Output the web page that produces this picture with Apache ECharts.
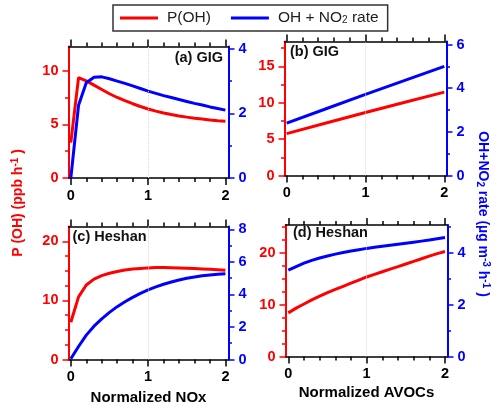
<!DOCTYPE html>
<html><head><meta charset="utf-8">
<script src="https://cdn.jsdelivr.net/npm/echarts@6/dist/echarts.min.js"></script>
<style>html,body{margin:0;padding:0;background:#fff}#c{width:500px;height:409px}</style>
</head><body><div id="c"></div>
<script>
// ---- data ----
const xNOx = [0,0.1,0.2,0.3,0.4,0.5,0.6,0.7,0.8,0.9,1.0,1.1,1.2,1.3,1.4,1.5,1.6,1.7,1.8,1.9,2.0];
const aPOH  = [3.3,9.35,9.05,8.65,8.25,7.85,7.5,7.2,6.92,6.66,6.43,6.23,6.06,5.91,5.78,5.67,5.57,5.49,5.41,5.34,5.28];
const aRate = [0,2.25,2.95,3.12,3.13,3.07,3.0,2.93,2.85,2.77,2.69,2.62,2.55,2.49,2.43,2.37,2.31,2.26,2.2,2.15,2.1];
const xAVOCb = [0,0.5,1.0,1.5,2.0];
const bPOH  = [5.75,7.2,8.65,10.05,11.45];
const bRate = [2.4,3.06,3.72,4.36,5.0];
const cPOH  = [6.3,10.6,12.6,13.6,14.2,14.6,14.9,15.15,15.3,15.4,15.5,15.55,15.55,15.53,15.5,15.45,15.4,15.33,15.26,15.18,15.1];
const cRate = [0.05,0.8,1.5,2.05,2.5,2.9,3.25,3.55,3.82,4.07,4.28,4.47,4.63,4.77,4.89,5.0,5.08,5.15,5.2,5.25,5.28];
const xAVOC = [0,0.1,0.2,0.3,0.4,0.5,0.6,0.7,0.8,0.9,1.0,1.1,1.2,1.3,1.4,1.5,1.6,1.7,1.8,1.9,2.0];
const dPOH  = [8.4,9.3,10.1,10.9,11.6,12.3,12.9,13.5,14.1,14.7,15.3,15.8,16.3,16.8,17.3,17.8,18.3,18.8,19.3,19.8,20.2];
const dRate = [3.32,3.46,3.59,3.70,3.79,3.87,3.94,4.00,4.06,4.11,4.16,4.20,4.24,4.28,4.32,4.36,4.40,4.44,4.48,4.53,4.58];
const xTicks = [0,1,2];
const gridLineX = [1];
const yTicksA = [0,5,10],  rTicksA = [0,2,4];
const yTicksB = [0,5,10,15], rTicksB = [0,2,4,6];
const yTicksC = [0,10,20], rTicksC = [0,2,4,6,8];
const yTicksD = [0,10,20], rTicksD = [0,2,4];
const panelTitles = ['(a) GIG','(b) GIG','(c) Heshan','(d) Heshan'];
const xNames = ['Normalized NOx','Normalized AVOCs'];
const seriesNames = ['P(OH)','OH + NO2 rate'];

const FONT = "'Liberation Sans', Arial, sans-serif";
const RED = '#ff0000', BLUE = '#0000ff';

function xAxesFor(gi, min, max, name, nameGap) {
  const base = {
    type:'value', gridIndex:gi, min:min, max:max, splitNumber:2, minInterval:1, maxInterval:1,
    axisLine:{show:true, onZero:false, lineStyle:{color:'#000', width:1.5}},
    axisTick:{show:true, inside:false, length:7, customValues:xTicks, lineStyle:{color:'#000', width:1.5}},
    minorTick:{show:true, splitNumber:5, length:4, lineStyle:{color:'#000', width:1.5}},
    splitLine:{show:false}
  };
  const bottom = Object.assign({}, base, {
    position:'bottom',
    axisLabel:{show:true, customValues:xTicks, color:'#000', fontWeight:'bold', fontSize:14.5, fontFamily:FONT, margin:10},
    name: name || '', nameLocation:'middle', nameGap: nameGap || 30,
    nameTextStyle:{color:'#000', fontWeight:'bold', fontSize:15, fontFamily:FONT}
  });
  const top = Object.assign({}, base, {position:'top', axisLabel:{show:false}});
  return [bottom, top];
}
function yAxisFor(gi, pos, max, interval, ticks, minorSplit, color) {
  return {
    type:'value', gridIndex:gi, position:pos, min:0, max:max, interval:interval,
    axisLine:{show:true, onZero:false, lineStyle:{color:color, width:2}},
    axisTick:{show:true, inside:false, length:6, customValues:ticks, lineStyle:{color:color, width:1.5}},
    minorTick:{show:true, splitNumber:minorSplit, length:3.5, lineStyle:{color:color, width:1.5}},
    axisLabel:{show:true, customValues:ticks, color:color, fontWeight:'bold', fontSize:14.5, fontFamily:FONT, margin:10},
    splitLine:{show:false}
  };
}
function pairs(xs, ys){ return xs.map((x,i)=>[x, ys[i]]); }
function line(name, xi, yi, xs, ys, color, withGrid) {
  const s = {
    name:name, type:'line', xAxisIndex:xi, yAxisIndex:yi, data:pairs(xs, ys),
    showSymbol:false, symbol:'none', lineStyle:{color:color, width:3}, itemStyle:{color:color},
    z:3, animation:false
  };
  if (withGrid) {
    s.markLine = {silent:true, symbol:'none', label:{show:false}, animation:false,
      lineStyle:{color:'#d8d8d8', type:'dotted', width:1}, data:gridLineX.map(v=>({xAxis:v}))};
  }
  return s;
}

const grids = [
  {left:68.5, top:46.5, width:160, height:131.5},
  {left:284.5, top:41.5, width:162, height:134},
  {left:68.5, top:226.5, width:160, height:133},
  {left:285.5, top:225, width:162, height:131.5}
];

const xAxes = [].concat(
  xAxesFor(0, -0.03, 2.04),
  xAxesFor(1, -0.028, 2.028),
  xAxesFor(2, -0.03, 2.04, xNames[0], 30.5),
  xAxesFor(3, -0.036, 2.032, xNames[1], 28.5)
);
const yAxes = [
  yAxisFor(0,'left',12.25,5,yTicksA,2,RED),   yAxisFor(0,'right',4.07,2,rTicksA,2,BLUE),
  yAxisFor(1,'left',18.4,5,yTicksB,2,RED),    yAxisFor(1,'right',6.14,2,rTicksB,2,BLUE),
  yAxisFor(2,'left',22.5,10,yTicksC,4,RED),   yAxisFor(2,'right',8.18,2,rTicksC,2,BLUE),
  yAxisFor(3,'left',25.3,10,yTicksD,4,RED),   yAxisFor(3,'right',5.06,2,rTicksD,2,BLUE)
];

const series = [
  line(seriesNames[0],0,0,xNOx,aPOH,RED,true),  line(seriesNames[1],0,1,xNOx,aRate,BLUE),
  line(seriesNames[0],2,2,xAVOCb,bPOH,RED,true),line(seriesNames[1],2,3,xAVOCb,bRate,BLUE),
  line(seriesNames[0],4,4,xNOx,cPOH,RED,true),  line(seriesNames[1],4,5,xNOx,cRate,BLUE),
  line(seriesNames[0],6,6,xAVOC,dPOH,RED,true), line(seriesNames[1],6,7,xAVOC,dRate,BLUE)
];

const titleStyle = {fontSize:14.5, fontWeight:'bold', color:'#111', fontFamily:FONT};
const option = {
  animation:false,
  backgroundColor:'#fff',
  title:[
    {text:panelTitles[0], right:277, top:50, padding:0, textStyle:titleStyle},
    {text:panelTitles[1], left:290, top:44, padding:0, textStyle:titleStyle},
    {text:panelTitles[2], left:72.5, top:229, padding:0, textStyle:titleStyle},
    {text:panelTitles[3], left:293, top:225.5, padding:0, textStyle:titleStyle}
  ],
  legend:{
    data:seriesNames, left:113, top:5, orient:'horizontal',
    borderColor:'#333', borderWidth:1.5, padding:[5,9,5,7],
    itemWidth:38, itemHeight:3, itemGap:20, icon:'rect',
    formatter:function(n){ return n === seriesNames[1] ? '{n|OH + NO}{s|2}{n| rate}' : '{n|' + n + '}'; },
    textStyle:{fontSize:15.5, color:'#222', fontFamily:FONT, padding:[0,0,0,4], lineHeight:15,
      rich:{n:{fontSize:15.5, fontFamily:FONT, color:'#222', lineHeight:15},
            s:{fontSize:10, fontFamily:FONT, color:'#222', lineHeight:10, verticalAlign:'bottom'}}}
  },
  grid:grids,
  xAxis:xAxes,
  yAxis:yAxes,
  series:series,
  graphic:[
    {type:'text', x:18, y:203, rotation:Math.PI/2, silent:true,
     style:{text:'{a|P (OH) (ppb h}{p|-1}{a| )}', fill:RED, align:'center', verticalAlign:'middle',
       rich:{a:{fontSize:14, fontWeight:'bold', fontFamily:FONT, fill:RED, lineHeight:16},
             p:{fontSize:10, fontWeight:'bold', fontFamily:FONT, fill:RED, lineHeight:16, verticalAlign:'top'}}}},
    {type:'text', x:483, y:214, rotation:-Math.PI/2, silent:true,
     style:{text:'{a|OH+NO}{s|2}{a| rate (µg m}{p|-3}{a| h}{p|-1}{a| )}', fill:BLUE, align:'center', verticalAlign:'middle',
       rich:{a:{fontSize:14, fontWeight:'bold', fontFamily:FONT, fill:BLUE, lineHeight:16},
             s:{fontSize:10, fontWeight:'bold', fontFamily:FONT, fill:BLUE, lineHeight:16, verticalAlign:'bottom'},
             p:{fontSize:10, fontWeight:'bold', fontFamily:FONT, fill:BLUE, lineHeight:16, verticalAlign:'top'}}}}
  ]
};
const chart = echarts.init(document.getElementById('c'), null, {renderer:'canvas'});
chart.setOption(option);
</script></body></html>
